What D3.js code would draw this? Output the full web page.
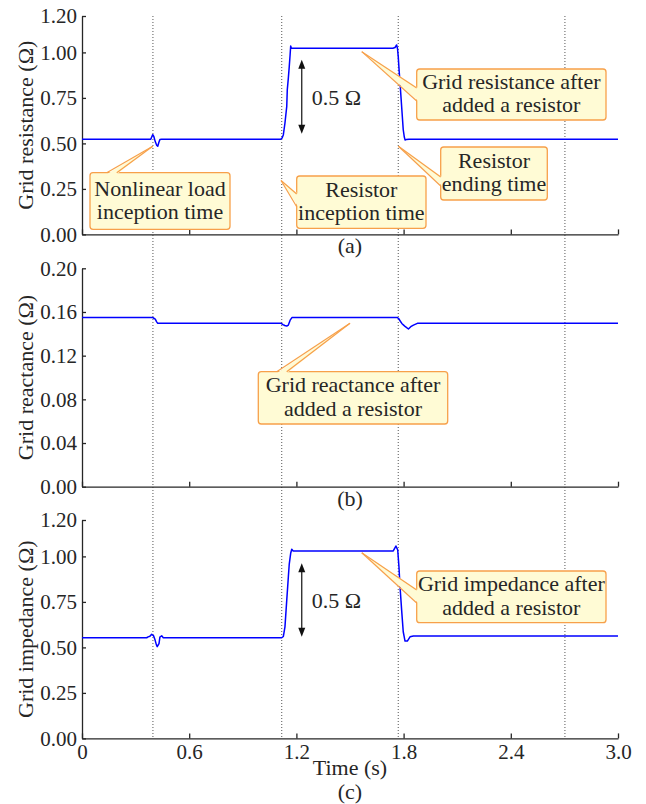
<!DOCTYPE html>
<html><head><meta charset="utf-8">
<script src="https://cdn.jsdelivr.net/npm/d3@7"></script>
<style>html,body{margin:0;padding:0;background:#fff;} svg{display:block;} svg text{font-family:"Liberation Serif","Times New Roman","DejaVu Serif",serif;}</style>
</head><body><div id="chart"></div>
<script>
// ---------- data ----------
const timeTicks = [0, 0.6, 1.2, 1.8, 2.4, 3.0];
const timeTickLabels = ["0", "0.6", "1.2", "1.8", "2.4", "3.0"];
const ohmTicks = [0, 0.25, 0.5, 0.75, 1.0, 1.2];
const ohmTickLabels = ["0.00", "0.25", "0.50", "0.75", "1.00", "1.20"];
const reactTicks = [0, 0.04, 0.08, 0.12, 0.16, 0.20];
const reactTickLabels = ["0.00", "0.04", "0.08", "0.12", "0.16", "0.20"];
const eventTimes = [0.397, 1.118, 1.77, 2.703];

const resistanceT = [0, 0.385, 0.39, 0.396, 0.402, 0.41, 0.418, 0.424, 0.43, 0.436, 0.445,
  1.112, 1.12, 1.127, 1.136, 1.146, 1.149, 1.155, 1.16, 1.165, 1.168, 1.172, 1.18,
  1.74, 1.752, 1.761, 1.766, 1.770, 1.775, 1.780, 1.789, 1.798, 1.804, 1.808, 1.815, 1.83, 3.0];
const resistanceV = [0.523, 0.523, 0.535, 0.548, 0.538, 0.51, 0.49, 0.484, 0.505, 0.522, 0.523,
  0.523, 0.53, 0.548, 0.612, 0.703, 0.795, 0.86, 0.922, 0.99, 1.035, 1.023, 1.023,
  1.023, 1.027, 1.041, 1.02, 0.977, 0.9, 0.831, 0.703, 0.575, 0.535, 0.519, 0.521, 0.523, 0.523];

const reactanceT = [0, 0.395, 0.40, 0.41, 0.418, 0.424, 1.115, 1.125, 1.135, 1.146, 1.155, 1.165, 1.175,
  1.765, 1.772, 1.78, 1.79, 1.80, 1.81, 1.827, 1.84, 1.855, 1.877, 3.0];
const reactanceV = [0.155, 0.155, 0.1545, 0.1535, 0.151, 0.1496, 0.1496, 0.1485, 0.1476, 0.1471, 0.148, 0.1525, 0.1549,
  0.1549, 0.154, 0.152, 0.1495, 0.148, 0.1465, 0.1444, 0.1465, 0.148, 0.1496, 0.1496];

const impedanceT = [0, 0.362, 0.37, 0.38, 0.39, 0.40, 0.409, 0.416, 0.421, 0.431, 0.436, 0.446, 0.455,
  1.118, 1.127, 1.136, 1.146, 1.155, 1.16, 1.168, 1.174, 1.182,
  1.742, 1.757, 1.767, 1.774, 1.780, 1.789, 1.798, 1.808, 1.821, 1.836, 1.855, 3.0];
const impedanceV = [0.553, 0.553, 0.558, 0.561, 0.572, 0.565, 0.54, 0.515, 0.504, 0.521, 0.557, 0.564, 0.553,
  0.553, 0.56, 0.613, 0.76, 0.888, 0.958, 1.017, 1.039, 1.03,
  1.03, 1.057, 1.036, 0.943, 0.833, 0.705, 0.586, 0.535, 0.535, 0.558, 0.563, 0.562];

const panelTitles = ["Grid resistance (\u03A9)", "Grid reactance (\u03A9)", "Grid impedance (\u03A9)"];
const panelTags = ["(a)", "(b)", "(c)"];
const xTitle = "Time (s)";

const stepLabel = "0.5 \u03A9";
const stepPanels = [0, 2];
const stepT = [1.23, 1.23];
const stepLow = [0.553, 0.558];
const stepHigh = [0.959, 0.962];
const stepTextT = 1.286;
const stepTextV = [0.712, 0.715];

const noteLines = [["Nonlinear load", "inception time"], ["Resistor", "inception time"],
  ["Grid resistance after", "added a resistor"], ["Resistor", "ending time"],
  ["Grid reactance after", "added a resistor"], ["Grid impedance after", "added a resistor"]];
const notePanel = [0, 0, 0, 0, 1, 2];
const noteTipT = [0.396, 1.114, 1.566, 1.771, 1.5, 1.566];
const noteTipV = [0.484, 0.296, 1.004, 0.484, 0.1496, 1.020];

// ---------- layout ----------
const W = 646, H = 804;
const left = 82, right = 618;
const panelTop = [16, 268.3, 520];
const panelH = 218.4;
const noteBoxes = [
  {x: 90, y: 172.7, w: 140, h: 56.6, side: "top", b: [106.7, 116.7]},
  {x: 296.7, y: 176, w: 129.3, h: 52.3, side: "left", b: [194, 206.7]},
  {x: 416.7, y: 69, w: 189.3, h: 51, side: "left", b: [88, 101]},
  {x: 440.7, y: 147, w: 106.6, h: 53, side: "left", b: [177, 186]},
  {x: 258.3, y: 371.7, w: 189.4, h: 52.3, side: "top", b: [276.7, 286.7]},
  {x: 416.7, y: 571, w: 189.3, h: 51.7, side: "left", b: [590, 603]}
];
const ink = "#262626";
const serif = '"Liberation Serif","Times New Roman","DejaVu Serif",serif';
const boxFill = "#fffbd5", boxStroke = "#f7a04a";

const svg = d3.select("#chart").append("svg").attr("width", W).attr("height", H)
  .attr("font-family", serif);
const x = d3.scaleLinear().domain([0, 3]).range([left, right]);

const series = [
  {t: resistanceT, v: resistanceV, max: 1.2, ticks: ohmTicks, labels: ohmTickLabels},
  {t: reactanceT, v: reactanceV, max: 0.2, ticks: reactTicks, labels: reactTickLabels},
  {t: impedanceT, v: impedanceV, max: 1.2, ticks: ohmTicks, labels: ohmTickLabels}
];
const ys = series.map((s, i) => d3.scaleLinear().domain([0, s.max]).range([panelTop[i] + panelH, panelTop[i]]));

// dotted event lines
svg.append("g").selectAll("line").data(eventTimes).join("line")
  .attr("x1", d => x(d)).attr("x2", d => x(d))
  .attr("y1", panelTop[0]).attr("y2", panelTop[2] + panelH)
  .attr("stroke", "#555").attr("stroke-width", 1).attr("stroke-dasharray", "1,2");

series.forEach((s, i) => {
  const y = ys[i];
  const g = svg.append("g");
  const ya = g.append("g").attr("transform", `translate(${left},0)`)
    .call(d3.axisLeft(y).tickValues(s.ticks).tickFormat((d, k) => s.labels[k]).tickSizeInner(-4).tickSizeOuter(0).tickPadding(5));
  const xa = g.append("g").attr("transform", `translate(0,${panelTop[i] + panelH})`)
    .call(d3.axisBottom(x).tickValues(timeTicks).tickFormat((d, k) => i === 2 ? timeTickLabels[k] : "").tickSizeInner(-5).tickSizeOuter(0).tickPadding(6));
  [ya, xa].forEach(a => {
    a.attr("font-family", serif).attr("font-size", 21);
    a.selectAll("path,line").attr("stroke", ink).attr("stroke-width", 1.3);
    a.selectAll("text").attr("fill", ink);
  });
  g.append("text").attr("transform", `translate(33,${panelTop[i] + panelH / 2}) rotate(-90)`)
    .attr("text-anchor", "middle").attr("fill", ink).attr("font-size", 22).text(panelTitles[i]);
  const pts = s.t.map((t, k) => [t, s.v[k]]);
  g.append("path").datum(pts)
    .attr("d", d3.line().x(d => x(d[0])).y(d => y(d[1])))
    .attr("fill", "none").attr("stroke", "#0000ff").attr("stroke-width", 1.5).attr("stroke-linejoin", "round");
});

// tags and x title
const tagBase = [253, 506, 799];
panelTags.forEach((t, i) => svg.append("text").attr("x", x(1.5)).attr("y", tagBase[i])
  .attr("text-anchor", "middle").attr("fill", ink).attr("font-size", 22).text(t));
svg.append("text").attr("x", x(1.5)).attr("y", 775).attr("text-anchor", "middle")
  .attr("fill", ink).attr("font-size", 22).text(xTitle);

// step arrows
stepPanels.forEach((p, k) => {
  const y = ys[p];
  const xx = x(stepT[k]), y1 = y(stepHigh[k]), y2 = y(stepLow[k]);
  svg.append("line").attr("x1", xx).attr("x2", xx).attr("y1", y1 + 4).attr("y2", y2 - 4)
    .attr("stroke", "#111").attr("stroke-width", 1.2);
  svg.append("path").attr("d", `M${xx},${y1}L${xx - 3.5},${y1 + 9}L${xx + 3.5},${y1 + 9}Z`).attr("fill", "#111");
  svg.append("path").attr("d", `M${xx},${y2}L${xx - 3.5},${y2 - 9}L${xx + 3.5},${y2 - 9}Z`).attr("fill", "#111");
  svg.append("text").attr("x", x(stepTextT)).attr("y", y(stepTextV[k])).attr("fill", ink)
    .attr("font-size", 22).text(stepLabel);
});

// callouts
noteLines.forEach((lines, i) => {
  const b = noteBoxes[i];
  const tx = x(noteTipT[i]), ty = ys[notePanel[i]](noteTipV[i]);
  const g = svg.append("g");
  g.append("rect").attr("x", b.x).attr("y", b.y).attr("width", b.w).attr("height", b.h)
    .attr("rx", 3).attr("fill", boxFill).attr("stroke", boxStroke).attr("stroke-width", 1.3);
  let p1, p2, q1, q2;
  if (b.side === "top") { p1 = [b.b[0], b.y]; p2 = [b.b[1], b.y]; q1 = [b.b[0], b.y + 1.5]; q2 = [b.b[1], b.y + 1.5]; }
  else { p1 = [b.x, b.b[0]]; p2 = [b.x, b.b[1]]; q1 = [b.x + 1.5, b.b[0]]; q2 = [b.x + 1.5, b.b[1]]; }
  g.append("path").attr("d", `M${tx},${ty}L${q1[0]},${q1[1]}L${q2[0]},${q2[1]}Z`).attr("fill", boxFill);
  [p1, p2].forEach(p => g.append("line").attr("x1", tx).attr("y1", ty).attr("x2", p[0]).attr("y2", p[1])
    .attr("stroke", boxStroke).attr("stroke-width", 1.2));
  const cx = b.x + b.w / 2, cy = b.y + b.h / 2;
  lines.forEach((l, k) => g.append("text").attr("x", cx).attr("y", cy - 5.5 + k * 23.3)
    .attr("text-anchor", "middle").attr("fill", ink).attr("font-size", 22).text(l));
});
</script></body></html>
